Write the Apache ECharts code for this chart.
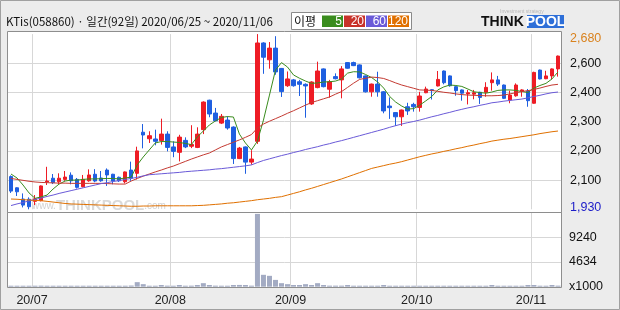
<!DOCTYPE html>
<html><head><meta charset="utf-8">
<script src="https://cdn.jsdelivr.net/npm/echarts@6/dist/echarts.min.js"></script>
<style>html,body{margin:0;padding:0;background:#ececec}#c{width:620px;height:310px}</style>
</head><body><div id="c"></div>
<script>
const dates = ['20/06/25','20/06/26','20/06/29','20/06/30',
'20/07/01','20/07/02','20/07/03','20/07/06','20/07/07','20/07/08','20/07/09','20/07/10','20/07/13','20/07/14','20/07/15','20/07/16','20/07/17','20/07/20','20/07/21','20/07/22','20/07/23','20/07/24','20/07/27','20/07/28','20/07/29','20/07/30','20/07/31',
'20/08/03','20/08/04','20/08/05','20/08/06','20/08/07','20/08/10','20/08/11','20/08/12','20/08/13','20/08/14','20/08/18','20/08/19','20/08/20','20/08/21','20/08/24','20/08/25','20/08/26','20/08/27','20/08/28','20/08/31',
'20/09/01','20/09/02','20/09/03','20/09/04','20/09/07','20/09/08','20/09/09','20/09/10','20/09/11','20/09/14','20/09/15','20/09/16','20/09/17','20/09/18','20/09/21','20/09/22','20/09/23','20/09/24','20/09/25','20/09/28','20/09/29',
'20/10/05','20/10/06','20/10/07','20/10/08','20/10/12','20/10/13','20/10/14','20/10/15','20/10/16','20/10/19','20/10/20','20/10/21','20/10/22','20/10/23','20/10/26','20/10/27','20/10/28','20/10/29','20/10/30',
'20/11/02','20/11/03','20/11/04','20/11/05','20/11/06'];

const opens  = [2070,2022,1974,1973,1964,1967,2047,2063,2048,2058,2076,2058,2027,2052,2080,2064,2098,2080,2067,2048,2098,2084,2260,2232,2231,2224,2252,2197,2174,2225,2200,2195,2271,2397,2342,2299,2312,2282,2147,2197,2132,2221,2642,2570,2620,2533,2459,2484,2476,2465,2381,2451,2531,2444,2498,2484,2558,2558,2548,2501,2433,2466,2433,2372,2344,2326,2369,2379,2366,2429,2442,2458,2522,2501,2455,2441,2424,2423,2431,2431,2472,2484,2462,2398,2416,2436,2436,2384,2526,2489,2501,2531];
const closes = [2008,2005,1948,1941,1975,2030,2051,2044,2063,2068,2052,2024,2058,2077,2051,2052,2077,2051,2052,2090,2063,2180,2248,2245,2221,2252,2195,2178,2239,2197,2207,2252,2389,2338,2309,2328,2278,2147,2192,2132,2145,2642,2581,2620,2518,2434,2488,2459,2465,2458,2475,2522,2455,2476,2489,2531,2534,2545,2493,2433,2466,2433,2351,2365,2326,2355,2351,2369,2415,2445,2438,2486,2472,2459,2438,2427,2429,2429,2409,2452,2484,2466,2405,2419,2462,2441,2395,2516,2488,2501,2531,2586];
const lows   = [2000,1987,1938,1930,1948,1964,2034,2038,2038,2052,2037,2019,2024,2048,2046,2048,2030,2037,2047,2041,2052,2058,2191,2214,2204,2207,2178,2153,2135,2192,2192,2192,2252,2324,2307,2295,2271,2124,2145,2082,2121,2210,2510,2532,2506,2411,2454,2455,2415,2322,2377,2448,2452,2408,2486,2405,2532,2543,2490,2430,2412,2412,2341,2317,2287,2287,2334,2348,2348,2427,2400,2456,2465,2455,2416,2395,2379,2401,2381,2412,2438,2458,2402,2384,2412,2412,2369,2382,2486,2487,2486,2498];
const highs  = [2075,2024,1998,1981,1991,2032,2112,2081,2084,2094,2088,2064,2077,2101,2102,2094,2105,2082,2070,2092,2134,2198,2295,2264,2271,2318,2264,2221,2249,2238,2290,2281,2392,2399,2364,2338,2328,2285,2197,2199,2183,2680,2645,2646,2671,2535,2520,2488,2484,2469,2478,2562,2533,2484,2512,2543,2560,2562,2550,2503,2468,2519,2436,2409,2346,2357,2386,2386,2433,2455,2444,2522,2524,2503,2459,2443,2441,2441,2433,2474,2516,2501,2464,2438,2469,2444,2445,2519,2528,2523,2533,2588];

const ma5   = [2081,2064,2034,2000,1977,1983,1991,2017,2038,2051,2055,2055,2058,2060,2060,2061,2062,2062,2060,2064,2068,2120,2154,2184,2214,2220,2220,2218,2216,2212,2207,2240,2265,2291,2308,2323,2327,2325,2252,2214,2184,2222,2312,2419,2526,2558,2539,2505,2491,2479,2469,2471,2475,2476,2479,2488,2513,2519,2518,2507,2494,2475,2449,2413,2389,2372,2359,2361,2376,2394,2413,2441,2454,2462,2460,2456,2445,2433,2430,2427,2432,2439,2441,2441,2439,2434,2430,2449,2460,2469,2488,2518];
const ma20  = [2062,2058,2054,2050,2047,2045,2044,2043,2042,2042,2041,2041,2041,2041,2041,2041,2040,2039,2038,2038,2051,2062,2072,2081,2090,2098,2107,2115,2125,2135,2145,2154,2163,2171,2184,2197,2207,2217,2227,2238,2250,2278,2295,2307,2318,2329,2341,2352,2364,2376,2387,2395,2403,2411,2423,2434,2452,2470,2486,2491,2496,2494,2490,2481,2471,2462,2455,2448,2441,2440,2439,2435,2431,2428,2424,2421,2419,2418,2417,2416,2416,2417,2419,2424,2429,2434,2438,2443,2449,2456,2462,2465];
const ma60  = [1946,1953,1959,1966,1972,1978,1985,1991,1998,2004,2010,2016,2022,2028,2034,2040,2044,2049,2053,2058,2062,2067,2073,2078,2080,2082,2084,2086,2088,2091,2093,2095,2097,2099,2102,2104,2107,2110,2113,2116,2120,2130,2139,2146,2153,2160,2166,2173,2179,2186,2192,2198,2205,2211,2218,2224,2231,2238,2245,2252,2259,2266,2273,2281,2288,2295,2301,2306,2312,2319,2326,2332,2339,2345,2352,2358,2364,2369,2375,2380,2386,2389,2393,2396,2399,2402,2407,2413,2418,2424,2429,2432];
const ma120 = [1974,1973,1971,1970,1968,1967,1964,1961,1958,1955,1953,1952,1951,1950,1949,1948,1947,1946,1945,1944,1943,1943,1944,1944,1945,1945,1945,1945,1945,1945,1945,1946,1947,1949,1951,1953,1956,1958,1961,1964,1967,1971,1974,1977,1981,1984,1991,1998,2005,2013,2020,2028,2036,2044,2052,2060,2069,2078,2087,2096,2105,2111,2117,2123,2128,2134,2141,2148,2155,2161,2167,2172,2178,2183,2189,2194,2200,2205,2211,2216,2222,2226,2230,2233,2237,2241,2245,2249,2254,2258,2262,2265];

// volume in thousands of shares
const volumes = [180,160,170,150,190,200,180,150,140,150,160,140,150,150,160,170,150,140,150,190,220,850,475,180,170,320,200,180,320,190,200,320,660,320,200,190,180,320,330,320,200,13600,2220,2030,1270,660,475,320,320,475,320,660,320,200,200,200,320,190,190,190,190,190,320,180,180,180,180,180,180,180,180,180,180,180,180,180,180,180,180,180,320,180,180,180,180,180,320,320,190,180,320,200];

const priceTickLabels = ['1,930','2,100','2,200','2,300','2,400','2,600','2,680'];
const volTickLabels = ['x1000','4634','9240',''];
const xTickLabels = ['20/07','20/08','20/09','20/10','20/11'];
const titleText = 'KTis(058860) · 일간(92일) 2020/06/25 ~ 2020/11/06';

const P_MIN = 1930, P_MAX = 2680, P_INT = 125;
const V_MAX = 13860, V_INT = 4620;

const isTick = (i) => i > 0 && dates[i].slice(0,5) !== dates[i-1].slice(0,5) && xTickLabels.indexOf(dates[i].slice(0,5)) >= 0;
const NUMF = 'Liberation Sans';
const KF = '"Noto Sans CJK KR", sans-serif';

const chart = echarts.init(document.getElementById('c'));
const candleData = dates.map((d, i) => [opens[i], closes[i], lows[i], highs[i]]);
const GL = 8, GW = 553;
const gridColor = '#d7d7d7';

const legendItems = [
  {t:'5', c:'#3a8c1e', x:322, w:21},
  {t:'20', c:'#c8322a', x:344, w:21},
  {t:'60', c:'#6a5ad8', x:366, w:21},
  {t:'120', c:'#e07000', x:388, w:21}
];
const graphics = [
  {type:'rect', z:-1, shape:{x:8, y:32, width:553, height:180}, style:{fill:'#ffffff'}},
  {type:'rect', z:-1, shape:{x:8, y:212.5, width:553, height:75}, style:{fill:'#ffffff'}},
  {type:'text', z:1, x:32, y:206, style:{text:'{a|www.}{b|THINKPOOL}{a|.com}', verticalAlign:'middle', rich:{a:{fontSize:10, fill:'#d2d2d2', fontFamily:NUMF}, b:{fontSize:15, fontWeight:'bold', fill:'#dadada', fontFamily:NUMF}}}},
  {type:'rect', z:50, shape:{x:7.5, y:31.5, width:554, height:181}, style:{fill:null, stroke:'#8e8e8e', lineWidth:1}},
  {type:'rect', z:50, shape:{x:7.5, y:212.5, width:554, height:75}, style:{fill:null, stroke:'#8e8e8e', lineWidth:1}},
  {type:'rect', z:50, shape:{x:0.5, y:0.5, width:619, height:309}, style:{fill:null, stroke:'#a0a0a0', lineWidth:1}},
  {type:'text', z:50, x:6, y:22, style:{text:titleText, font:'11.5px ' + KF, fill:'#111', verticalAlign:'middle'}},
  {type:'rect', z:50, shape:{x:291.5, y:12.5, width:120, height:17}, style:{fill:'#ffffff', stroke:'#8a8a8a', lineWidth:1}},
  {type:'text', z:51, x:294, y:21.5, style:{text:'이평', font:'12px ' + KF, fill:'#111', verticalAlign:'middle'}},
  {type:'rect', z:50, shape:{x:527, y:15, width:37, height:13}, style:{fill:'#2e6fd8'}},
  {type:'text', z:51, x:481, y:22, style:{text:'THINK', font:'bold 14px ' + NUMF, fill:'#111', verticalAlign:'middle'}},
  {type:'text', z:51, x:545.5, y:22, style:{text:'POOL', font:'bold 14px ' + NUMF, fill:'#fff', verticalAlign:'middle', align:'center'}},
  {type:'text', z:51, x:500, y:12, style:{text:'Investment strategy', font:'5px ' + NUMF, fill:'#b8b8b8', verticalAlign:'middle'}}
];
legendItems.forEach(it => {
  graphics.push({type:'rect', z:51, shape:{x:it.x, y:15.5, width:it.w, height:11.5}, style:{fill:it.c}});
  graphics.push({type:'text', z:52, x:it.x + it.w - 1, y:21.5, style:{text:it.t, font:'12px ' + NUMF, fill:'#fff', align:'right', verticalAlign:'middle'}});
});

const option = {
  backgroundColor: '#ececec',
  animation: false,
  grid: [
    {left:GL, width:GW, top:34.1, height:175.2},
    {left:GL, width:GW, top:212.5, height:74.2}
  ],
  xAxis: [
    {type:'category', gridIndex:0, data:dates, boundaryGap:true,
     axisLine:{show:false}, axisTick:{show:false}, axisLabel:{show:false},
     splitLine:{show:true, interval:(i) => isTick(i), lineStyle:{color:gridColor, width:1}}},
    {type:'category', gridIndex:1, data:dates, boundaryGap:true,
     axisLine:{show:false}, axisTick:{show:false},
     axisLabel:{show:true, interval:(i) => isTick(i), formatter:(v) => v.slice(0,5),
                margin:7, padding:[0,6,0,0], color:'#222', fontSize:12.5, fontFamily:NUMF},
     splitLine:{show:true, interval:(i) => isTick(i), lineStyle:{color:gridColor, width:1}}}
  ],
  yAxis: [
    {type:'value', gridIndex:0, position:'right', min:P_MIN, max:P_MAX, interval:P_INT,
     axisLine:{show:false}, axisTick:{show:false},
     splitLine:{show:true, showMinLine:false, showMaxLine:false, lineStyle:{color:gridColor, width:1}},
     axisLabel:{margin:9, color:'#111', fontSize:12.5, fontFamily:NUMF,
       formatter:(v) => {
         const k = Math.round((v - P_MIN) / P_INT);
         const t = priceTickLabels[k];
         if (k === 0) return '{lo|' + t + '}';
         if (k === priceTickLabels.length - 1) return '{hi|' + t + '}';
         return t;
       },
       rich:{
         lo:{color:'#1c1cc8', fontSize:12.5, fontFamily:NUMF, padding:[0,0,4,0]},
         hi:{color:'#d9821e', fontSize:12.5, fontFamily:NUMF, padding:[8,0,0,0]}
       }}},
    {type:'value', gridIndex:1, position:'right', min:0, max:V_MAX, interval:V_INT,
     axisLine:{show:false}, axisTick:{show:false},
     splitLine:{show:true, showMinLine:false, showMaxLine:false, lineStyle:{color:gridColor, width:1}},
     axisLabel:{margin:8, color:'#111', fontSize:12.5, fontFamily:NUMF,
       formatter:(v) => volTickLabels[Math.round(v / V_INT)] || ''}}
  ],
  series: [
    {type:'candlestick', xAxisIndex:0, yAxisIndex:0, data:candleData, barWidth:4, z:2,
     itemStyle:{color:'#ee1c25', color0:'#1f5fe0', borderColor:'#ee1c25', borderColor0:'#1f5fe0', borderWidth:1}},
    {type:'line', name:'MA5', xAxisIndex:0, yAxisIndex:0, data:ma5, showSymbol:false, z:3, lineStyle:{color:'#3a8c1e', width:1}},
    {type:'line', name:'MA20', xAxisIndex:0, yAxisIndex:0, data:ma20, showSymbol:false, z:3, lineStyle:{color:'#c43a32', width:1}},
    {type:'line', name:'MA60', xAxisIndex:0, yAxisIndex:0, data:ma60, showSymbol:false, z:3, lineStyle:{color:'#6a5ad8', width:1}},
    {type:'line', name:'MA120', xAxisIndex:0, yAxisIndex:0, data:ma120, showSymbol:false, z:3, lineStyle:{color:'#e07000', width:1}},
    {type:'bar', xAxisIndex:1, yAxisIndex:1, data:volumes, barWidth:5, barMinHeight:1, z:2,
     itemStyle:{color:'#a3abc3'}}
  ],
  graphic: graphics
};
chart.setOption(option);
</script></body></html>
